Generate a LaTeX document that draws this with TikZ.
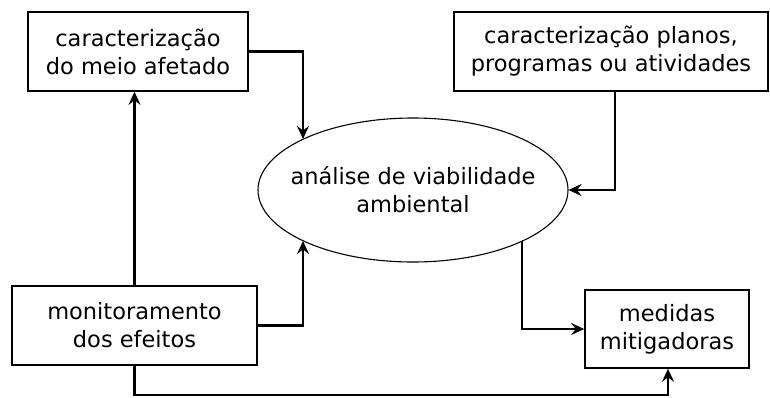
\documentclass[tikz,border=0pt]{standalone}
\usepackage{fontspec}
\setmainfont{DejaVu Sans}
\usetikzlibrary{arrows.meta,shapes.geometric}
\tikzset{
  box/.style={draw,line width=1.6pt,inner sep=0pt,align=center,
    font=\fontsize{22.5}{28}\selectfont},
  elli/.style={draw,ellipse,line width=1.1pt,inner xsep=-16pt,inner ysep=22pt,align=center,
    minimum width=310,minimum height=144,font=\fontsize{22.5}{28}\selectfont},
  seta/.style={line width=2.2pt,-{Stealth[length=13pt,width=12pt,inset=4.5pt]}}
}
\begin{document}
\begin{tikzpicture}[x=1pt,y=-1pt]
      \useasboundingbox (0,0) rectangle (770,397);
      \draw
        (138,51.5) node[box,minimum width=220,minimum height=79] (meio){caracterização\\do meio afetado}
        (611,51.5) node[box,minimum width=314,minimum height=79] (planos){caracterização planos,\\programas ou atividades}
        (413,190) node[elli] (analise){análise de viabilidade\\ambiental}
        (134.5,325.5) node[box,minimum width=245,minimum height=79] (monit){monitoramento\\dos efeitos}
        (667,329) node[box,minimum width=164,minimum height=78] (medidas){medidas\\mitigadoras};
      % pontos na borda da elipse
      \coordinate (topo) at (303,139);
      \coordinate (baixo) at (303,241);
      \coordinate (saida) at (522,241);
      \coordinate (canto) at (668,395);
      \begin{scope}[seta]
        \draw (meio.east) -| (topo);
        \draw ([xshift=4pt]planos.south) |- (analise.east);
        \draw (monit.north) -- (monit.north |- meio.south);
        \draw (monit.east) -| (baixo);
        \draw (saida) |- (medidas.west);
        \draw (monit.south) |- (canto) -- (medidas.south -| canto);
      \end{scope}
    \end{tikzpicture}
\end{document}
